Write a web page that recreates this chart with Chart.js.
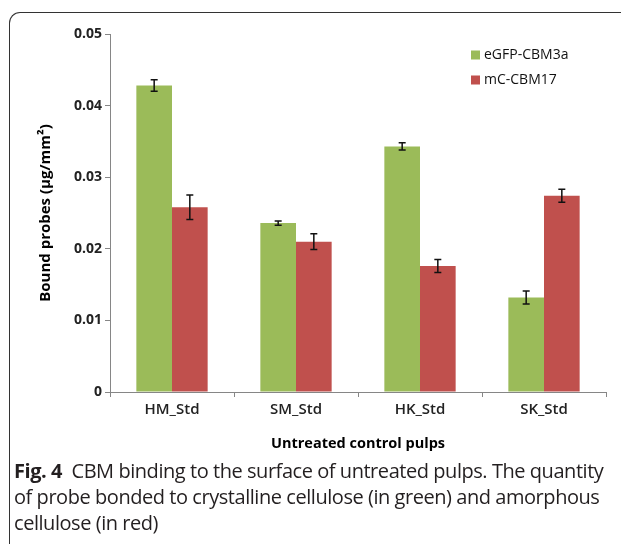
<!DOCTYPE html>
<html>
<head>
<meta charset="utf-8">
<script src="https://cdn.jsdelivr.net/npm/chart.js@4.4.1/dist/chart.umd.min.js"></script>
<style>
  html, body { margin: 0; padding: 0; background: #fff; }
  body { width: 621px; height: 544px; position: relative; overflow: hidden; }
  .frame {
    position: absolute; left: 9px; top: 12px; width: 700px; height: 600px;
    border-top: 1px solid #333; border-left: 1px solid #333;
    border-top-left-radius: 11px;
  }
  .chart-box { position: absolute; left: 0; top: 0; width: 621px; height: 460px; }
  .caption {
    position: absolute; left: 14px; top: 458px; width: 610px;
    font-family: "Open Sans", sans-serif; font-size: 20px; line-height: 26px;
    color: #231f20; letter-spacing: -0.45px; white-space: nowrap;
  }
  .caption b { font-weight: 700; }
</style>
</head>
<body>
<div class="frame"></div>
<div class="chart-box"><canvas id="cbmChart" width="621" height="460"></canvas></div>
<div class="caption"><b>Fig. 4</b>&nbsp; CBM binding to the surface of untreated pulps. The quantity<br>of probe bonded to crystalline cellulose (in green) and amorphous<br>cellulose (in red)</div>

<script>
// ===== Data =====
const categories = ['HM_Std', 'SM_Std', 'HK_Std', 'SK_Std'];
const greenValues = [0.0428, 0.0236, 0.0343, 0.0132];
const greenErrors = [0.0008, 0.0003, 0.0005, 0.0009];
const redValues = [0.0258, 0.0210, 0.0176, 0.0274];
const redErrors = [0.0017, 0.0011, 0.0009, 0.0009];
const yTickLabels = ['0', '0.01', '0.02', '0.03', '0.04', '0.05'];

const GREEN = '#9BBB59';
const RED = '#C0504D';
const AXIS = '#868686';

// ===== Error bars =====
const errorBars = {
  id: 'errorBars',
  afterDatasetsDraw(chart) {
    const ctx = chart.ctx;
    const y = chart.scales.y;
    chart.data.datasets.forEach((ds, i) => {
      const meta = chart.getDatasetMeta(i);
      meta.data.forEach((bar, j) => {
        const v = ds.data[j], e = ds.errors[j];
        const top = y.getPixelForValue(v + e);
        const bot = y.getPixelForValue(v - e);
        ctx.save();
        ctx.strokeStyle = '#111';
        ctx.lineWidth = 1.5;
        ctx.beginPath();
        ctx.moveTo(bar.x, top); ctx.lineTo(bar.x, bot);
        ctx.moveTo(bar.x - 3.5, top); ctx.lineTo(bar.x + 3.5, top);
        ctx.moveTo(bar.x - 3.5, bot); ctx.lineTo(bar.x + 3.5, bot);
        ctx.stroke();
        ctx.restore();
      });
    });
  }
};

// ===== Legend inside plot =====
const innerLegend = {
  id: 'innerLegend',
  afterDraw(chart) {
    const ctx = chart.ctx;
    ctx.save();
    ctx.font = '14px "Open Sans"';
    ctx.textBaseline = 'middle';
    chart.data.datasets.forEach((ds, i) => {
      const yy = 55 + i * 25;
      ctx.fillStyle = ds.backgroundColor;
      ctx.fillRect(471, yy - 4.5, 9, 9);
      ctx.fillStyle = '#111';
      ctx.fillText(ds.label, 484, yy);
    });
    ctx.restore();
  }
};

const ctx = document.getElementById('cbmChart').getContext('2d');
const cbmChart = new Chart(ctx, {
  type: 'bar',
  data: {
    labels: categories,
    datasets: [
      { label: 'eGFP-CBM3a', data: greenValues, errors: greenErrors, backgroundColor: GREEN },
      { label: 'mC-CBM17', data: redValues, errors: redErrors, backgroundColor: RED }
    ]
  },
  options: {
    responsive: false,
    animation: false,
    layout: { padding: { top: 34, right: 15, left: 0, bottom: 0 } },
    datasets: { bar: { categoryPercentage: 0.575, barPercentage: 1.0 } },
    plugins: {
      legend: { display: false },
      tooltip: { enabled: false }
    },
    scales: {
      x: {
        afterFit: (s) => { s.height = 68; },
        grid: { drawOnChartArea: false, drawTicks: true, tickLength: 5, color: AXIS, offset: true },
        border: { color: AXIS, width: 1 },
        ticks: { color: '#222', padding: 4, font: { family: 'Open Sans', size: 15, weight: '600' } },
        title: {
          display: true, text: 'Untreated control pulps', color: '#000',
          font: { family: 'Open Sans', size: 14.5, weight: 'bold' },
          padding: { top: 4, bottom: 7 }
        }
      },
      y: {
        min: 0, max: 0.05,
        afterFit: (s) => { s.width = 110; },
        grid: { drawOnChartArea: false, drawTicks: true, tickLength: 5, color: AXIS },
        border: { color: AXIS, width: 1 },
        ticks: {
          stepSize: 0.01, color: '#222', padding: 3,
          font: { family: 'Open Sans', size: 14, weight: 'bold' },
          callback: (val, idx) => yTickLabels[idx]
        },
        title: {
          display: true, text: 'Bound probes (μg/mm²)', color: '#000',
          font: { family: 'Open Sans', size: 15, weight: 'bold' },
          padding: { top: 37, bottom: 0 }
        }
      }
    }
  },
  plugins: [errorBars, innerLegend]
});
</script>
</body>
</html>
